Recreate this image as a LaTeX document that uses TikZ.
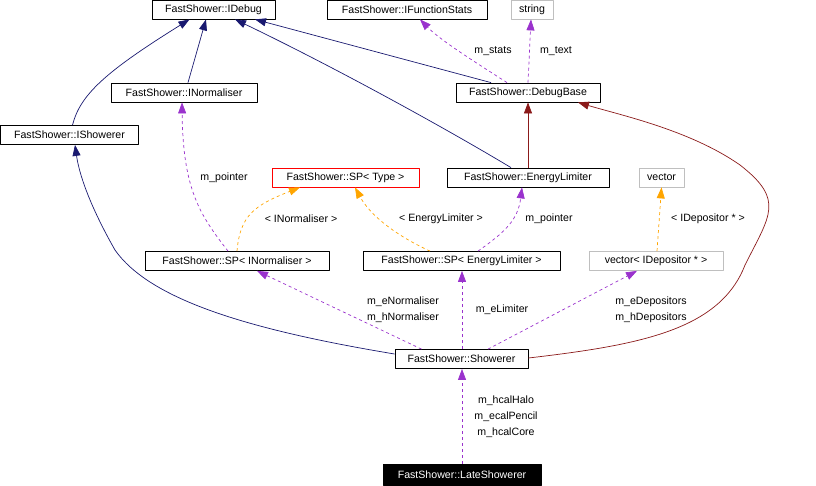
\documentclass[tikz,border=0pt]{standalone}
\usepackage{fontspec}
\setmainfont{Liberation Sans}
\usetikzlibrary{arrows.meta}
\definecolor{inhblue}{HTML}{191970}
\definecolor{inhred}{HTML}{8B1A1A}
\definecolor{usepurple}{HTML}{9A32CD}
\definecolor{tmplorange}{HTML}{FFA500}
\definecolor{boxgrey}{HTML}{BFBFBF}

\begin{document}
\begin{tikzpicture}[line join=round,x=1pt,y=-1pt,>={Triangle[length=11pt,width=8pt]},
	every node/.style={font=\fontsize{10.6}{12}\selectfont},
	classbox/.style={draw=black,line width=0.8pt,minimum height=19pt,inner sep=0pt},
	greybox/.style={classbox,draw=boxgrey},
	redbox/.style={classbox,draw=red},
	mainbox/.style={classbox,fill=black,text=white,minimum height=21pt},
	inhblueline/.style={->,color=inhblue,line width=0.7pt},
	inhredline/.style={->,color=inhred,line width=0.7pt},
	useline/.style={->,color=usepurple,dashed,line width=0.7pt},
	tmplline/.style={->,color=tmplorange,dashed,line width=0.7pt},
	lbl/.style={inner sep=0pt}]
				\useasboundingbox (0,0) rectangle (816,485);
				% classes
				\node[classbox,minimum width=123pt] (idebug) at (213.5,9.5) {FastShower::IDebug};
				\node[classbox,minimum width=160pt] (ifstats) at (407,9.5) {FastShower::IFunctionStats};
				\node[greybox,minimum width=42pt] (string) at (532,9.5) {string};
				\node[classbox,minimum width=144pt] (debugbase) at (528,92.5) {FastShower::DebugBase};
				\node[classbox,minimum width=146pt] (inorm) at (184,92.5) {FastShower::INormaliser};
				\node[classbox,minimum width=138pt] (ishowerer) at (69.5,135) {FastShower::IShowerer};
				\node[redbox,minimum width=147pt] (sptype) at (345.5,177.5) {FastShower::SP< Type >};
				\node[classbox,minimum width=162pt] (elimiter) at (528,177.5) {FastShower::EnergyLimiter};
				\node[greybox,minimum width=45pt] (vector) at (661.5,177.5) {vector};
				\node[classbox,minimum width=184pt] (spinorm) at (237,261) {FastShower::SP< INormaliser >};
				\node[classbox,minimum width=197pt] (spelim) at (461.5,261) {FastShower::SP< EnergyLimiter >};
				\node[greybox,minimum width=134pt] (vecdep) at (656,261) {vector< IDepositor * >};
				\node[classbox,minimum width=133pt] (showerer) at (461.5,359) {FastShower::Showerer};
				\node[mainbox,minimum width=158pt] (late) at (462,474.5) {FastShower::LateShowerer};

				% inheritance
				\draw[inhblueline] ([xshift=3pt]ishowerer.north) .. controls (80,95) and (105,72) .. ([xshift=-24pt]idebug.south);
				\draw[inhblueline] ([xshift=4pt]inorm.north) -- ([xshift=-7.5pt]idebug.south);
				\draw[inhblueline] ([xshift=-17pt]elimiter.north) .. controls (440,125) and (330,65) .. ([xshift=21.5pt]idebug.south);
				\draw[inhblueline] ([xshift=-37pt]debugbase.north) -- ([xshift=41.5pt]idebug.south);
				\draw[inhredline] (elimiter.north) -- (debugbase.south);
				\draw[inhredline] ([yshift=1pt]showerer.east) .. controls (640,345) and (720,330) .. (745,265)
					.. controls (770,215) and (785,200) .. (740,165)
					.. controls (690,130) and (620,115) .. ([xshift=50pt]debugbase.south);
				\draw[inhblueline] ([yshift=5pt]showerer.west) .. controls (250,330) and (150,300) .. (115,250)
					.. controls (95,215) and (80,180) .. ([xshift=5.5pt]ishowerer.south);

				% members
				\draw[useline] ([xshift=-21pt]debugbase.north) .. controls (475,62) and (440,40) .. ([xshift=13pt]ifstats.south);
				\node[lbl] (lstats) at (493,51) {m\_stats};
				\draw[useline] (debugbase.north) -- ([xshift=-1pt]string.south);
				\node[lbl] (ltext) at (556,51) {m\_text};
				\draw[useline] ([xshift=-9pt]spinorm.north) .. controls (200,215) and (183,190) .. ([xshift=-2pt]inorm.south);
				\node[lbl] (lptr1) at (224,178) {m\_pointer};
				\draw[tmplline] (spinorm.north) .. controls (240,215) and (255,205) .. ([xshift=-45.5pt]sptype.south);
				\node[lbl] (lnorm) at (301,219) {< INormaliser >};
				\draw[tmplline] ([xshift=-31.5pt]spelim.north) .. controls (395,235) and (370,215) .. ([xshift=9.5pt]sptype.south);
				\node[lbl] (lelim) at (441,219) {< EnergyLimiter >};
				\draw[useline] ([xshift=16.5pt]spelim.north) .. controls (505,232) and (518,220) .. ([xshift=-6pt]elimiter.south);
				\node[lbl] (lptr2) at (549,219) {m\_pointer};
				\draw[tmplline] ([xshift=1pt]vecdep.north) -- (vector.south);
				\node[lbl] (ldep) at (708,219) {< IDepositor * >};
				\draw[useline] ([xshift=-40pt]showerer.north) -- ([xshift=20pt]spinorm.south);
				\node[lbl] (lenorm) at (403,302) {m\_eNormaliser};
				\node[lbl] (lhnorm) at (403,318) {m\_hNormaliser};
				\draw[useline] ([xshift=0.5pt]showerer.north) -- ([xshift=0.5pt]spelim.south);
				\node[lbl] (llim) at (502,310) {m\_eLimiter};
				\draw[useline] ([xshift=26.5pt]showerer.north) -- ([xshift=-19pt]vecdep.south);
				\node[lbl] (ledep) at (651,302) {m\_eDepositors};
				\node[lbl] (lhdep) at (651,318) {m\_hDepositors};
				\draw[useline] (late.north) -- ([xshift=0.5pt]showerer.south);
				\node[lbl] (lhalo) at (506,401) {m\_hcalHalo};
				\node[lbl] (lpencil) at (506,417) {m\_ecalPencil};
				\node[lbl] (lcore) at (506,433) {m\_hcalCore};
\end{tikzpicture}
\end{document}
